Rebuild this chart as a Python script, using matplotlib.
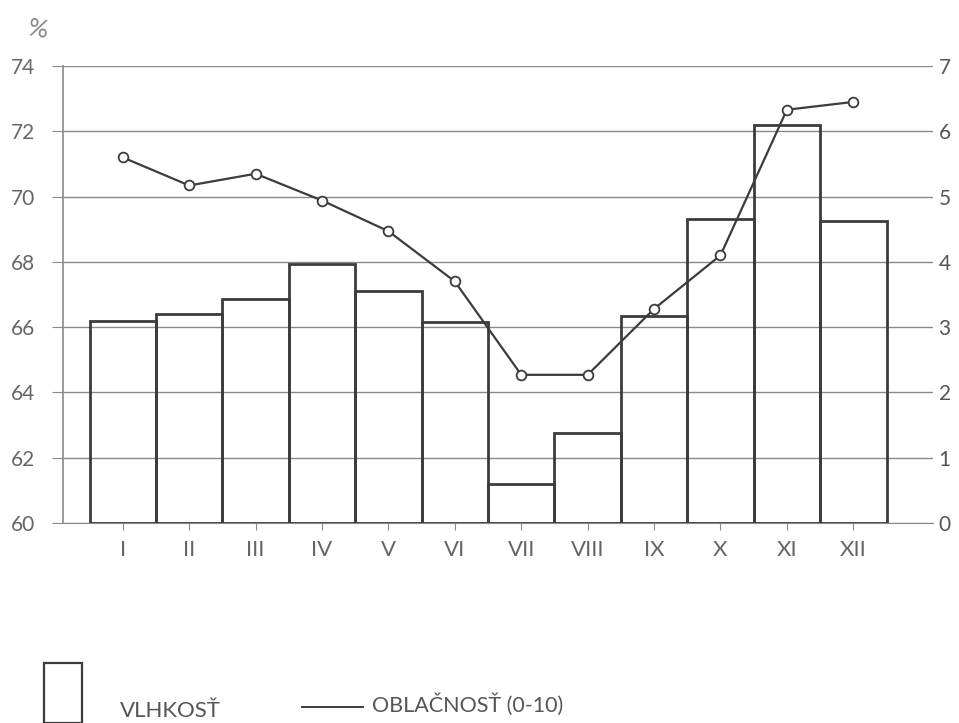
import numpy as np
import matplotlib
matplotlib.use("Agg")
import matplotlib.pyplot as plt
from matplotlib.patches import Rectangle
from matplotlib.lines import Line2D

plt.rcParams['font.family'] = ['Lato', 'DejaVu Sans']

# months (roman numerals)
months = ['I', 'II', 'III', 'IV', 'V', 'VI', 'VII', 'VIII', 'IX', 'X', 'XI', 'XII']
# relative humidity, % (bars, left axis)
vlhkost = [66.2, 66.4, 66.85, 67.95, 67.1, 66.15, 61.2, 62.75, 66.35, 69.3, 72.2, 69.25]
# cloudiness 0-10 (line, right axis)
oblacnost = [5.6, 5.17, 5.35, 4.94, 4.47, 3.7, 2.27, 2.27, 3.28, 4.1, 6.33, 6.45]

left_ticks = [60, 62, 64, 66, 68, 70, 72, 74]
right_ticks = [0, 1, 2, 3, 4, 5, 6, 7]

ink = '#3c3c3c'
grid_col = '#8a8a8a'
txt_col = '#666666'

fig = plt.figure(figsize=(9.59, 7.23), dpi=100)
ax = fig.add_axes([63 / 959, 0.2766, (933 - 63) / 959, 0.6321])
x = np.arange(len(months))

ax.set_axisbelow(True)
ax.yaxis.grid(True, color=grid_col, linewidth=1.0)
ax.bar(x, np.array(vlhkost) - 60, bottom=60, width=1.0, facecolor='none',
       edgecolor=ink, linewidth=2.0, zorder=3)
ax.set_xlim(-0.9, 12.2)
ax.set_ylim(60, 74)
ax.set_yticks(left_ticks)
ax.set_xticks(x)
ax.set_xticklabels(months)
ax.tick_params(axis='y', length=8, color=grid_col, labelsize=15, labelcolor=txt_col, pad=12)
ax.tick_params(axis='x', length=5, color=grid_col, labelsize=16, labelcolor=txt_col, pad=7)
for s in ['top', 'right']:
    ax.spines[s].set_visible(False)
ax.spines['left'].set_color(grid_col)
ax.spines['bottom'].set_color(grid_col)
ax.spines['left'].set_linewidth(1.2)

ax2 = ax.twinx()
ax2.plot(x, oblacnost, color=ink, linewidth=1.6, marker='o', markersize=7,
         markerfacecolor='white', markeredgecolor=ink, markeredgewidth=1.3, zorder=5)
ax2.set_ylim(0, 7)
ax2.set_yticks(right_ticks)
ax2.tick_params(axis='y', length=0, labelsize=15, labelcolor='#555555', pad=4)
for s in ['top', 'right', 'left', 'bottom']:
    ax2.spines[s].set_visible(False)

fig.text(0.04, 0.96, '%', fontsize=18, color='#888888', rotation=-10, ha='center', va='center')

# legend drawn by hand at the bottom
fig.patches.append(Rectangle((44 / 959, 0), 38 / 959, (723 - 663) / 723, transform=fig.transFigure,
                             facecolor='none', edgecolor=ink, linewidth=1.6, clip_on=False))
fig.text(120 / 959, 1 - 711 / 723, 'VLHKOSŤ', fontsize=16, color='#555555', ha='left', va='center')
fig.lines.append(Line2D([302 / 959, 363 / 959], [1 - 707 / 723, 1 - 707 / 723], transform=fig.transFigure,
                        color=ink, linewidth=1.4))
fig.text(372 / 959, 1 - 705 / 723, 'OBLAČNOSŤ (0-10)', fontsize=15.5, color='#555555', ha='left', va='center')

fig.savefig('out.png', dpi=100)
